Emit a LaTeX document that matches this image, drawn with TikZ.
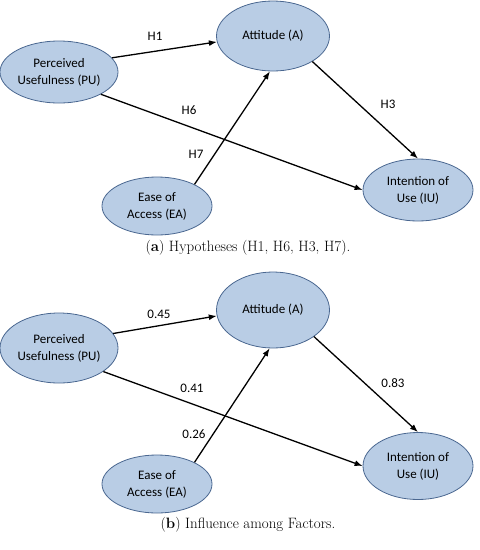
\documentclass[tikz,border=0pt]{standalone}
\usepackage{fontspec}
\newfontfamily\carlito{Carlito}
\usepackage{xcolor}
\definecolor{cFill}{HTML}{B9CDE5}
\definecolor{cEdge}{HTML}{4A6790}
\usetikzlibrary{shapes.geometric,arrows.meta}
\tikzset{
  node-factor/.style={ellipse,draw=cEdge,line width=0.8pt,fill=cFill,
    inner sep=0pt,align=center,font=\carlito\fontsize{13}{17}\selectfont},
  node-label/.style={font=\carlito\fontsize{13}{16}\selectfont},
  node-caption/.style={font=\fontsize{15}{18}\selectfont},
  arrow/.style={-{Latex[length=8pt,width=6pt]},line width=1.3pt,draw=black},
}

\begin{document}
\begin{tikzpicture}[x=1pt,y=-1pt]
  \useasboundingbox (0,0) rectangle (480,550);
  % (a) hypotheses
  \node[node-factor,minimum width=118pt,minimum height=62pt] (pu-a)  at (59,72)   {Perceived\\Usefulness (PU)};
  \node[node-factor,minimum width=113pt,minimum height=70pt] (att-a) at (273,36)  {Attitude (A)};
  \node[node-factor,minimum width=110pt,minimum height=58pt] (ea-a)  at (157,206) {Ease of\\Access (EA)};
  \node[node-factor,minimum width=110pt,minimum height=62pt] (iu-a)  at (418,190) {Intention of\\Use (IU)};
  \draw[arrow] (pu-a.15)   -- (att-a.-174);
  \draw[arrow] (pu-a.-28)  -- (iu-a.west);
  \draw[arrow] (ea-a.30)   -- (att-a.-95);
  \draw[arrow] (att-a.-33) -- (iu-a.north);
  \node[node-label] (h1) at (155,36)  {H1};
  \node[node-label] (h6) at (189,110) {H6};
  \node[node-label] (h3) at (388,104) {H3};
  \node[node-label] (h7) at (196,154) {H7};
  \node[node-caption] (cap-a) at (248,248) {(\textbf{a}) Hypotheses (H1, H6, H3, H7).};

  % (b) influence among factors
  \node[node-factor,minimum width=118pt,minimum height=70pt] (pu-b)  at (59,348)  {Perceived\\Usefulness (PU)};
  \node[node-factor,minimum width=113pt,minimum height=76pt] (att-b) at (273,310) {Attitude (A)};
  \node[node-factor,minimum width=110pt,minimum height=58pt] (ea-b)  at (157,484) {Ease of\\Access (EA)};
  \node[node-factor,minimum width=110pt,minimum height=67pt] (iu-b)  at (418,466) {Intention of\\Use (IU)};
  \draw[arrow] (pu-b.15)   -- (att-b.-174);
  \draw[arrow] (pu-b.-28)  -- (iu-b.west);
  \draw[arrow] (ea-b.30)   -- (att-b.-95);
  \draw[arrow] (att-b.-33) -- (iu-b.north);
  \node[node-label] (w45) at (159,314) {0.45};
  \node[node-label] (w41) at (192,388) {0.41};
  \node[node-label] (w83) at (393,383) {0.83};
  \node[node-label] (w26) at (194,434) {0.26};
  \node[node-caption] (cap-b) at (248,525) {(\textbf{b}) Influence among Factors.};
\end{tikzpicture}
\end{document}
